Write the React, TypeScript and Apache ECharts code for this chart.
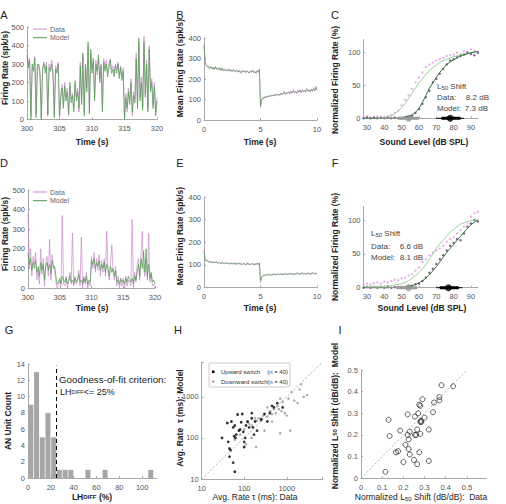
import React, { useEffect, useRef } from "react";
import * as echarts from "echarts";

const FONT = "'Liberation Sans', Arial, Helvetica, sans-serif";

// ---------- Panel A (time 300-320 s, step 0.2 s) ----------
const aModel = [350,280,320,0,300,260,330,10,280,300,
  240,0,270,310,250,290,20,280,260,300,
  240,10,270,250,300,20,120,170,60,180,
  100,150,30,200,90,130,40,210,100,150,
  60,290,80,360,20,300,150,420,30,380,
  250,330,100,300,260,350,200,290,40,310,
  260,300,230,280,320,250,270,230,290,250,
  300,220,280,210,260,0,120,60,150,80,
  200,40,130,90,330,60,440,100,200,50,
  420,120,300,40,380,150,200,60,180,20,
  100];
const aData = [380,300,330,20,280,270,340,30,300,290,
  260,10,280,300,270,310,30,300,270,320,
  260,20,290,260,310,10,140,190,80,200,
  120,170,20,180,110,140,60,190,120,170,
  40,310,100,340,40,280,170,400,50,360,
  270,310,120,320,240,330,220,300,60,330,
  280,320,250,300,330,270,290,250,300,270,
  310,240,290,230,280,10,140,40,170,100,
  220,20,150,110,360,80,420,120,230,70,
  450,140,320,60,400,170,220,80,200,40,
  120];

// ---------- Panel B (0-10 s, step 0.1 s) ----------
const bData = [370,280,270,262,258,255,262,248,258,250,
  262,246,255,248,252,240,255,245,250,238,
  248,242,250,238,245,235,248,240,236,245,
  232,242,238,228,244,235,240,230,242,236,
  228,240,232,245,230,238,225,242,232,248,
  60,95,110,105,115,108,118,112,120,115,
  122,116,125,118,128,120,126,118,132,124,
  128,140,122,135,128,138,126,142,130,150,
  132,140,128,145,135,148,132,150,138,145,
  135,155,140,148,136,152,140,158,142,165,
  145];
const bModel = [360,285,265,258,262,250,258,252,254,246,
  258,250,250,244,256,244,250,240,246,242,
  244,238,246,242,240,238,244,236,240,240,
  236,238,234,232,240,238,236,234,238,232,
  232,236,236,240,234,234,230,238,236,244,
  70,100,106,110,110,112,114,116,116,118,
  118,120,121,122,122,124,124,125,126,127,
  128,132,128,130,132,134,130,136,134,140,
  136,138,134,140,138,142,136,144,140,142,
  140,148,142,144,140,148,142,152,144,158,
  146];

// ---------- Panel D ----------
const dModel = [180,120,150,90,130,100,140,80,110,60,
  130,90,120,40,110,130,90,120,70,140,
  100,110,60,20,30,50,20,60,40,30,
  50,20,40,60,30,40,20,50,30,40,
  70,30,40,20,50,30,60,20,40,30,
  140,120,150,100,130,110,140,90,120,100,
  130,80,120,100,60,110,80,100,60,90,
  30,40,20,50,30,40,20,50,30,60,
  40,30,50,20,60,40,80,120,60,150,
  100,190,80,200,60,120,50,80,30,40,
  20];
const dData = [380,100,200,60,160,120,180,40,90,20,
  200,70,150,10,130,160,60,250,40,170,
  120,90,30,0,20,40,10,370,20,10,
  60,0,30,80,20,280,10,60,20,30,
  90,10,260,0,60,20,80,0,30,10,
  160,100,180,80,150,90,170,60,140,80,
  150,60,290,80,40,130,220,90,40,110,
  10,60,0,40,10,50,0,60,10,40,
  30,10,350,0,80,30,120,150,40,170,
  290,100,60,150,40,280,30,70,10,20,
  0];

// ---------- Panel E ----------
const eData = [170,128,118,122,112,118,110,115,108,114,
  110,116,106,112,108,104,114,106,110,104,
  112,106,108,102,110,106,104,112,100,108,
  104,110,102,106,100,108,104,98,110,102,
  106,100,104,108,98,106,102,108,100,110,
  22,42,50,55,52,58,54,60,55,58,
  52,60,56,62,54,58,60,56,62,55,
  60,58,64,56,60,62,58,64,60,56,
  62,58,66,60,64,58,62,68,60,64,
  58,62,66,60,64,58,68,62,60,65,
  58];
const eModel = [160,122,116,118,114,114,112,112,110,112,
  110,112,108,110,108,106,110,106,108,106,
  108,106,106,104,108,106,104,108,102,106,
  104,106,104,104,102,106,104,100,106,104,
  104,102,104,106,100,104,102,106,102,108,
  30,45,52,54,54,56,55,58,56,57,
  55,58,57,59,56,58,59,57,60,57,
  59,58,61,58,59,60,59,61,60,58,
  60,59,62,60,61,59,61,63,60,62,
  59,61,63,60,62,59,64,61,60,62,
  59];

// ---------- Panels C & F (sound level, dB SPL) ----------
const levels = [28,30,32,34,36,38,40,42,44,46,48,50,52,54,56,58,60,62,64,66,68,70,72,74,76,78,80,82,84,86,88,90,92,94];
const levelTicks = [30, 40, 50, 60, 70, 80, 90];
const cModel1 = [0,0,0,0,0,0,1,2,4,7,11,16,22,30,38,46,54,60,67,72,77,81,85,88,90,92,94,95,97,98,99,100,100,101];
const cModel2 = [0,0,0,0,0,0,0,0,0,0,0,1,2,3,5,9,15,24,35,46,54,62,70,76,82,86,89,92,95,97,98,100,101,102];
const cData1 = [2,3,1,2,3,1,2,3,5,8,12,20,28,35,45,55,62,70,78,82,85,88,90,92,95,96,97,100,98,102,100,105,103,100];
const cData2 = [0,1,0,1,0,1,0,1,0,1,0,0,1,2,4,8,14,22,32,42,55,60,68,75,82,88,90,93,95,97,100,98,96,100];
const fModel1 = [2,2,2,2,2,2,2,3,3,4,5,6,8,10,14,18,22,28,34,42,50,58,65,70,76,82,86,90,94,96,98,99,100,100];
const fModel2 = [0,0,0,0,0,0,0,0,0,0,0,0,1,2,3,5,7,10,14,19,25,31,38,45,52,58,64,70,76,82,88,93,97,100];
const fData1 = [5,6,5,7,8,6,9,8,10,12,11,14,15,18,20,25,30,38,42,48,52,55,58,62,68,72,75,80,85,90,95,105,110,112];
const fData2 = [0,1,0,1,0,1,0,1,0,1,1,1,1,2,3,5,6,10,15,22,28,35,42,48,55,62,66,72,70,80,90,95,100,98];
// L50 markers [whiskerLo, boxLo, centre, boxHi, whiskerHi]
const cGrayL50 = [36, 48, 54, 60, 60];
const cBlackL50 = [70, 73, 78, 84, 86];
const fGrayL50 = [29, 47, 54, 59, 59];
const fBlackL50 = [70, 72, 77, 83, 85];

// ---------- Panel G (histogram, 5% bins) ----------
const gBinCentres = [2.5, 7.5, 12.5, 17.5, 22.5, 27.5, 32.5, 37.5, 52.5, 67.5, 107.5];
const gCounts = [9, 13, 5, 8, 5, 1, 1, 1, 1, 1, 1];
const gCriterion = 25;

// ---------- Panel H (log-log) ----------
const hUpX = [30,40,42,45,45,48,50,55,55,58,60,60,62,65,70,75,80,85,90,95,100,100,105,110,120,130,150,150,160,170,180,200,250,300,350,400,450,500,600,800];
const hUpY = [100,230,80,55,35,50,250,180,25,110,200,15,100,120,370,150,160,240,380,140,80,60,100,200,250,180,300,400,180,120,250,150,280,380,250,400,600,550,700,550];
const hDownX = [60,80,100,110,120,130,150,180,190,200,220,250,260,280,300,350,400,450,500,550,600,650,700,750,800,900,1000,1100,1200,1300,1500,1800,2000,2200,2500,3000,350,450,700,150];
const hDownY = [90,120,160,70,240,220,200,300,60,260,300,260,300,350,150,330,450,380,500,400,600,500,130,450,750,400,350,900,150,1300,800,700,1500,2000,1000,1100,550,250,900,100];

// ---------- Panel I ----------
const iX = [0.115,0.13,0.135,0.185,0.165,0.175,0.2,0.21,0.22,0.22,0.225,0.225,0.23,0.23,0.25,0.255,0.255,0.26,0.265,0.265,0.27,0.275,0.275,0.28,0.28,0.283,0.285,0.28,0.29,0.3,0.32,0.32,0.34,0.345,0.37,0.37,0.38,0.435];
const iY = [0.03,0.27,0.195,0.22,0.12,0.125,0.075,0.155,0.295,0.2,0.18,0.135,0.215,0.11,0.085,0.2,0.285,0.2,0.065,0.225,0.3,0.12,0.34,0.335,0.26,0.265,0.26,0.205,0.365,0.28,0.08,0.225,0.305,0.35,0.36,0.375,0.43,0.425];

const spread = (start: number, end: number, arr: number[]) =>
  arr.map((v, i) => [start + ((end - start) * i) / (arr.length - 1), v]);
const pair = (xs: number[], ys: number[]) => xs.map((x, i) => [x, ys[i]]);

const PINK = "#cc88cc";
const GREEN = "#4a9c4a";
const LGREEN = "#96d296";
const DGREEN = "#2c7a3a";
const PDOT = "#e2a0e2";
const PURPLE = "#6a2a6a";
const AX = "#a8a8a8";

export default function App() {
  const ref = useRef<HTMLDivElement>(null);
  useEffect(() => {
    const chart = echarts.init(ref.current!, undefined, { renderer: "svg" });
    const axisLine = { show: true, onZero: false, lineStyle: { color: AX, width: 1 } };
    const axisTick = { show: true, inside: true, length: 2, lineStyle: { color: AX } };
    const lab = (extra: any = {}) => ({ color: "#555", fontSize: 7.5, fontFamily: FONT, margin: 3, ...extra });
    const xlab = (extra: any = {}) => lab({ margin: 5, ...extra });

    const grid = [
      { left: 27, top: 27, width: 130, height: 92.5 },      // A
      { left: 204, top: 38, width: 113, height: 82 },       // B
      { left: 363.5, top: 39.5, width: 114.4, height: 78.8 }, // C
      { left: 28, top: 190, width: 127, height: 98 },       // D
      { left: 204, top: 197, width: 113, height: 90.5 },    // E
      { left: 363.5, top: 206.5, width: 114.4, height: 81.2 }, // F
      { left: 28, top: 364, width: 129, height: 114 },      // G
      { left: 201.7, top: 362, width: 121, height: 117 },   // H
      { left: 361, top: 370, width: 125, height: 108.3 },   // I
    ];

    const vx = (gi: number, min: number, max: number, interval: number, extra: any = {}, tick: any = axisTick) => ({
      type: "value", gridIndex: gi, min, max, interval,
      axisLine, axisTick: tick, splitLine: { show: false }, axisLabel: xlab(extra),
    });
    const vy = (gi: number, min: number, max: number, interval: number, extra: any = {}) => ({
      type: "value", gridIndex: gi, min, max, interval,
      axisLine, axisTick, splitLine: { show: false }, axisLabel: lab(extra),
    });
    const logFmt = (v: number) => (v === 10 || v === 100 || v === 1000 ? String(v) : "");
    const levelTick = { ...axisTick, customValues: levelTicks };

    const xAxis: any[] = [
      vx(0, 300, 320, 5),
      vx(1, 0, 10, 5),
      vx(2, 28, 94, 2, { customValues: levelTicks }, levelTick),
      vx(3, 300, 320, 5),
      vx(4, 0, 10, 5),
      vx(5, 28, 94, 2, { customValues: levelTicks }, levelTick),
      vx(6, 0, 113, 20, { showMaxLabel: false }),
      { type: "log", gridIndex: 7, min: 10, max: 7000, logBase: 10, axisLine, axisTick,
        splitLine: { show: false }, axisLabel: xlab({ formatter: logFmt }) },
      vx(8, 0, 0.59, 0.1, { showMaxLabel: false }),
    ];
    const yAxis: any[] = [
      vy(0, 0, 500, 100),
      vy(1, 0, 400, 100),
      vy(2, 0, 120, 50, { showMaxLabel: false }),
      vy(3, 0, 500, 100),
      vy(4, 0, 400, 100),
      vy(5, 0, 120, 50, { showMaxLabel: false }),
      vy(6, 0, 14, 2),
      { type: "log", gridIndex: 7, min: 10, max: 7000, logBase: 10, axisLine, axisTick,
        splitLine: { show: false }, axisLabel: lab({ formatter: logFmt }) },
      vy(8, 0, 0.5, 0.1),
    ];

    const line = (gi: number, data: any[], color: string, width = 0.7, extra: any = {}) => ({
      type: "line", xAxisIndex: gi, yAxisIndex: gi, data, showSymbol: false, symbol: "none",
      lineStyle: { color, width }, silent: true, animation: false, ...extra,
    });
    const dots = (gi: number, data: any[], color: string, size = 2.4, extra: any = {}) => ({
      type: "scatter", xAxisIndex: gi, yAxisIndex: gi, data, symbolSize: size,
      itemStyle: { color }, silent: true, ...extra,
    });
    const l50 = (gi: number, m: number[], color: string) => [
      line(gi, [[m[0], 0], [m[4], 0]], color, 1, { clip: false }),
      line(gi, [[m[1], 0], [m[3], 0]], color, 3, { clip: false }),
      dots(gi, [[m[2], 0]], color, 7, { clip: false }),
    ];

    const series: any[] = [
      line(0, spread(300, 320, aData), PINK),
      line(0, spread(300, 320, aModel), GREEN),
      line(1, spread(0, 10, bData), PINK),
      line(1, spread(0, 10, bModel), GREEN),
      line(2, pair(levels, cModel1), LGREEN, 1),
      line(2, pair(levels, cModel2), DGREEN, 1),
      dots(2, pair(levels, cData1), PDOT),
      dots(2, pair(levels, cData2), PURPLE),
      ...l50(2, cGrayL50, "#9a9a9a"),
      ...l50(2, cBlackL50, "#000"),
      line(3, spread(300, 320, dData), PINK),
      line(3, spread(300, 320, dModel), GREEN),
      line(4, spread(0, 10, eData), PINK),
      line(4, spread(0, 10, eModel), GREEN),
      line(5, pair(levels, fModel1), LGREEN, 1),
      line(5, pair(levels, fModel2), DGREEN, 1),
      dots(5, pair(levels, fData1), PDOT),
      dots(5, pair(levels, fData2), PURPLE),
      ...l50(5, fGrayL50, "#9a9a9a"),
      ...l50(5, fBlackL50, "#000"),
      { type: "bar", xAxisIndex: 6, yAxisIndex: 6, data: pair(gBinCentres, gCounts), barWidth: 5,
        itemStyle: { color: "#a6a6a6" }, silent: true },
      line(6, [[gCriterion, 0], [gCriterion, 13.8]], "#000", 1, { lineStyle: { color: "#000", width: 1, type: [4, 3] } }),
      line(7, [[10, 10], [7000, 7000]], "#999", 0.8, { lineStyle: { color: "#999", width: 0.8, type: [2, 2] } }),
      dots(7, pair(hDownX, hDownY), "#9a9a9a", 2.6),
      dots(7, pair(hUpX, hUpY), "#000", 2.8),
      line(8, [[0, 0], [0.5, 0.5]], "#999", 0.8, { lineStyle: { color: "#999", width: 0.8, type: [2, 2] } }),
      { type: "scatter", xAxisIndex: 8, yAxisIndex: 8, data: pair(iX, iY), symbol: "circle",
        symbolSize: 5, itemStyle: { color: "rgba(255,255,255,0)", borderColor: "#222", borderWidth: 0.9 }, silent: true },
    ];

    const T = (text: string, x: number, y: number, o: any = {}) => ({
      type: "text", x, y, silent: true, rotation: o.rot || 0,
      style: {
        text, fontFamily: FONT, fontSize: o.size || 8.5, fontWeight: o.weight || "normal",
        fill: o.fill || "#222", align: o.align || "center", verticalAlign: "middle",
        rich: o.rich,
      },
    });
    const V = Math.PI / 2;
    const sub = { sub: { fontSize: 6, verticalAlign: "bottom", padding: [4, 0, 0, 0] } };
    const legend = (y: number) => [
      { type: "line", shape: { x1: 33, y1: y, x2: 47, y2: y }, style: { stroke: PINK, lineWidth: 1 } },
      T("Data", 50, y, { align: "left", size: 7, fill: "#666" }),
      { type: "line", shape: { x1: 33, y1: y + 8.7, x2: 47, y2: y + 8.7 }, style: { stroke: GREEN, lineWidth: 1 } },
      T("Model", 50, y + 8.7, { align: "left", size: 7, fill: "#666" }),
    ];
    const graphic: any[] = [
      T("A", 4, 15, { size: 11 }), T("B", 180, 15, { size: 11 }), T("C", 335, 15, { size: 11 }),
      T("D", 4, 163, { size: 11 }), T("E", 180, 163, { size: 11 }), T("F", 335, 163, { size: 11 }),
      T("G", 9, 330, { size: 11 }), T("H", 178, 330, { size: 11 }), T("I", 340, 330, { size: 11 }),
      ...legend(29), ...legend(192),
      T("Time (s)", 92, 142, { weight: "bold" }),
      T("Time (s)", 260, 142, { weight: "bold" }),
      T("Sound Level (dB SPL)", 424, 142, { weight: "bold" }),
      T("Time (s)", 92, 308, { weight: "bold" }),
      T("Time (s)", 260, 308, { weight: "bold" }),
      T("Sound Level (dB SPL)", 422, 308, { weight: "bold" }),
      T("Firing Rate (spk/s)", 5, 68, { weight: "bold", rot: V }),
      T("Mean Firing Rate (spk/s)", 180, 68, { weight: "bold", rot: V }),
      T("Normalized Firing Rate (%)", 335, 80, { weight: "bold", rot: V }),
      T("Firing Rate (spk/s)", 5, 234, { weight: "bold", rot: V }),
      T("Mean Firing Rate (spk/s)", 180, 236, { weight: "bold", rot: V }),
      T("Normalized Firing Rate (%)", 335, 247, { weight: "bold", rot: V }),
      T("L{sub|50} Shift", 437, 86, { align: "left", size: 8, fill: "#444", rich: sub }),
      T("Data:", 437, 97, { align: "left", size: 8, fill: "#444" }),
      T("8.2 dB", 489, 97, { align: "right", size: 8, fill: "#444" }),
      T("Model:", 437, 108, { align: "left", size: 8, fill: "#444" }),
      T("7.3 dB", 488, 108, { align: "right", size: 8, fill: "#444" }),
      T("L{sub|50} Shift", 371, 233, { align: "left", size: 8, fill: "#444", rich: sub }),
      T("Data:", 371, 246.5, { align: "left", size: 8, fill: "#444" }),
      T("6.6 dB", 423, 246.5, { align: "right", size: 8, fill: "#444" }),
      T("Model:", 371, 257, { align: "left", size: 8, fill: "#444" }),
      T("8.1 dB", 423, 257, { align: "right", size: 8, fill: "#444" }),
      T("Goodness-of-fit criterion:", 59, 379, { align: "left", size: 9.8 }),
      T("LH{s|DIFF}<= 25%", 60, 392, { align: "left", size: 9, rich: { s: { fontSize: 5.5 } } }),
      T("LH{s|DIFF} (%)", 92, 497, { weight: "bold", rich: { s: { fontSize: 6, fontWeight: "bold" } } }),
      T("AN Unit Count", 8, 421, { weight: "bold", rot: V }),
      T("Avg. Rate \u03c4 (ms): Data", 255, 497, { size: 8.5 }),
      T("Avg. Rate  \u03c4 (ms): Model", 180, 418, { weight: "bold", rot: V }),
      T("Normalized L{sub|50} Shift (dB/dB):  Data", 421, 497, { size: 8.5, rich: sub }),
      T("Normalized L{sub|50} Shift (dB/dB):  Model", 335, 416, { weight: "bold", rot: V, rich: { sub: { fontSize: 6, fontWeight: "bold" } } }),
      { type: "rect", shape: { x: 209, y: 363, width: 81, height: 24, r: 1 }, style: { fill: "#fff", stroke: "#aaa", lineWidth: 0.6 } },
      { type: "rect", shape: { x: 212, y: 370.5, width: 2.5, height: 2.5 }, style: { fill: "#000" } },
      T("Upward switch", 221, 372, { align: "left", size: 6, fill: "#333" }),
      T("(n = 40)", 288, 372, { align: "right", size: 6, fill: "#333" }),
      { type: "circle", shape: { cx: 213.3, cy: 381.5, r: 1.2 }, style: { fill: "#999" } },
      T("Downward switch", 221, 381.5, { align: "left", size: 6, fill: "#333" }),
      T("(n = 40)", 288, 381.5, { align: "right", size: 6, fill: "#333" }),
    ];

    chart.setOption({
      animation: false,
      backgroundColor: "#fff",
      textStyle: { fontFamily: FONT },
      grid, xAxis, yAxis, series, graphic,
    });
    return () => chart.dispose();
  }, []);
  return (
    <div
      ref={ref}
      style={{ position: "fixed", left: 0, top: 0, width: 506, height: 504, background: "#fff" }}
    />
  );
}
